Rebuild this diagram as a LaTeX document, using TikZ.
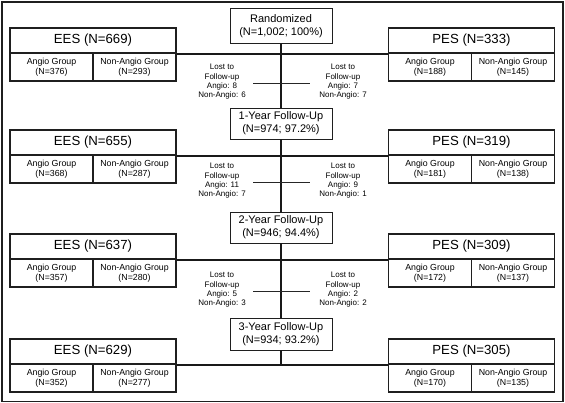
\documentclass[tikz,border=0pt]{standalone}
\usepackage{fontspec}
\setmainfont{Liberation Sans}
\begin{document}
\begin{tikzpicture}[x=1pt,y=-1pt,
  ink/.style={draw=black!88},
  titlebox/.style={ink,line width=1.1pt,minimum width=166pt,minimum height=25pt,inner sep=0pt,font=\fontsize{13.2}{15}\selectfont},
  subbox/.style={ink,line width=1.1pt,minimum width=83pt,minimum height=28pt,inner sep=0pt,align=center,font=\fontsize{8.8}{9.8}\selectfont},
  midbox/.style={ink,line width=0.9pt,fill=white,minimum width=102pt,inner sep=0pt,align=center,font=\fontsize{11}{13}\selectfont},
  losttext/.style={align=center,inner sep=0pt,font=\fontsize{8}{9.3}\selectfont},
  axis/.style={draw=black!90,line width=1.3pt},
  bar/.style={draw=black!90,line width=2pt},
  thin/.style={draw=black!85,line width=0.6pt}]
\useasboundingbox (0,0) rectangle (565,403);
\draw[ink,line width=1.3pt] (2,2) rectangle (563,401.5);

% rows: title tops 28,130,234,339
\foreach \r/\T/\ne/\ea/\en/\np/\pa/\pn in {1/28/669/376/293/333/188/145, 2/130/655/368/287/319/181/138, 3/234/637/357/280/309/172/137, 4/339/629/352/277/305/170/135}{
  \node[titlebox] (e\r) at (93,\T+12.5) {EES (N=\ne)};
  \node[subbox] (ea\r) at (51.5,\T+39) {Angio Group\\(N=\ea)};
  \node[subbox] (en\r) at (134.5,\T+39) {Non-Angio Group\\(N=\en)};
  \node[titlebox] (p\r) at (471.5,\T+12.5) {PES (N=\np)};
  \node[subbox] (pa\r) at (430,\T+39) {Angio Group\\(N=\pa)};
  \node[subbox] (pn\r) at (513,\T+39) {Non-Angio Group\\(N=\pn)};
}

% center boxes
\node[midbox,minimum height=35pt] (r0) at (281,26) {Randomized\\(N=1,002; 100\%)};
\node[midbox,minimum height=31pt] (r1) at (281,123.5) {1-Year Follow-Up\\(N=974; 97.2\%)};
\node[midbox,minimum height=31pt] (r2) at (281,227.5) {2-Year Follow-Up\\(N=946; 94.4\%)};
\node[midbox,minimum height=32pt] (r3) at (281,334) {3-Year Follow-Up\\(N=934; 93.2\%)};

% horizontal bars
\foreach \r in {1,2,3,4}{
  \draw[bar] (e\r.south east) -- (p\r.south west);
}
% vertical axis
\draw[axis] (r0.south) -- (r1.north);
\draw[axis] (r1.south) -- (r2.north);
\draw[axis] (r2.south) -- (r3.north);
\coordinate (end) at (281,364);
\draw[axis] (r3.south) -- (end);

% lost to follow-up
\foreach \k/\y/\la/\lb/\ra/\rb in {1/82/8/6/7/7, 2/181/11/7/9/1, 3/290/5/3/2/2}{
  \node[losttext] (ll\k) at (222,\y) {Lost to\\Follow-up\\Angio: \la\\Non-Angio: \lb};
  \node[losttext] (lr\k) at (343,\y) {Lost to\\Follow-up\\Angio: \ra\\Non-Angio: \rb};
  \coordinate (la\k) at (253,\y+1);
  \coordinate (ra\k) at (310,\y+1);
  \coordinate (ax\k) at (281,\y+1);
  \draw[thin] (la\k) -- (ax\k);
  \draw[thin] (ax\k) -- (ra\k);
}
\end{tikzpicture}
\end{document}
